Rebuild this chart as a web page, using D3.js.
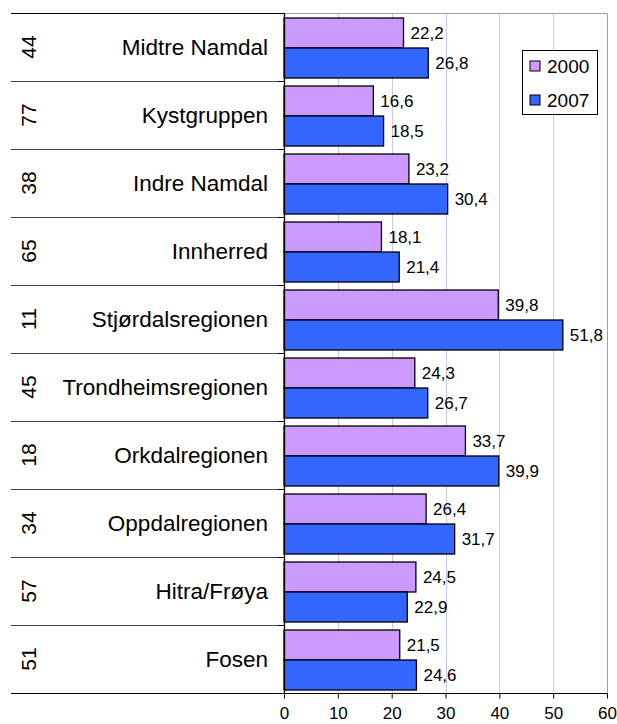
<!DOCTYPE html>
<html>
<head>
<meta charset="utf-8">
<script src="https://cdn.jsdelivr.net/npm/d3@7"></script>
<style>
  body { margin: 0; background: #fff; }
  svg text { font-family: "Liberation Sans", Arial, sans-serif; fill: #000; }
</style>
</head>
<body>
<script>
//chart data, top row first
var regions = ["Midtre Namdal", "Kystgruppen", "Indre Namdal", "Innherred", "Stjørdalsregionen",
    "Trondheimsregionen", "Orkdalregionen", "Oppdalregionen", "Hitra/Frøya", "Fosen"];
var codes = [44, 77, 38, 65, 11, 45, 18, 34, 57, 51];
var series = ["2000", "2007"];
var values2000 = [22.2, 16.6, 23.2, 18.1, 39.8, 24.3, 33.7, 26.4, 24.5, 21.5];
var values2007 = [26.8, 18.5, 30.4, 21.4, 51.8, 26.7, 39.9, 31.7, 22.9, 24.6];
var xTicks = [0, 10, 20, 30, 40, 50, 60];
var colors = ["#cc99ff", "#3366ff"];

window.onload = function(){
    var w = 617, h = 724;
    var left = 284, right = 607, top = 13, bottom = 693; //plot area
    var tableLeft = 11;

    var svg = d3.select("body").append("svg")
        .attr("width", w)
        .attr("height", h);

    //build rows from the arrays
    var rows = regions.map(function(r, i){
        return { region: r, code: codes[i], vals: [values2000[i], values2007[i]] };
    });

    var x = d3.scaleLinear().domain([0, 60]).range([left, right]);
    var y0 = d3.scaleBand().domain(regions).range([top, bottom]);
    var y1 = d3.scaleBand().domain(series).range([5, y0.bandwidth() - 3]);

    //vertical gridlines
    svg.append("g").selectAll("line")
        .data(xTicks.slice(1, -1))
        .enter().append("line")
        .attr("x1", function(d){ return Math.round(x(d)) + 0.5; })
        .attr("x2", function(d){ return Math.round(x(d)) + 0.5; })
        .attr("y1", top)
        .attr("y2", bottom)
        .style("stroke", "#c8c8f4")
        .style("stroke-width", 1);

    //plot border top + right
    svg.append("path")
        .attr("d", "M" + left + "," + (top + 0.5) + "H" + (right + 0.5) + "V" + bottom)
        .style("fill", "none")
        .style("stroke", "#a0a0a0");

    //table lines on the left
    svg.append("g").selectAll("line")
        .data(d3.range(regions.length + 1))
        .enter().append("line")
        .attr("x1", tableLeft)
        .attr("x2", left)
        .attr("y1", function(i){ return Math.round(top + i * y0.step()) + 0.5; })
        .attr("y2", function(i){ return Math.round(top + i * y0.step()) + 0.5; })
        .style("stroke", function(i){ return (i == 0 || i == regions.length) ? "#000" : "#444"; })
        .style("stroke-width", 1.2);

    //bars
    var groups = svg.selectAll(".row")
        .data(rows)
        .enter().append("g")
        .attr("class", "row")
        .attr("transform", function(d){ return "translate(0," + y0(d.region) + ")"; });

    groups.selectAll("rect")
        .data(function(d){ return d.vals.map(function(v, j){ return { s: series[j], v: v, j: j }; }); })
        .enter().append("rect")
        .attr("x", x(0))
        .attr("y", function(d){ return y1(d.s); })
        .attr("width", function(d){ return x(d.v) - x(0); })
        .attr("height", y1.bandwidth())
        .style("fill", function(d){ return colors[d.j]; })
        .style("stroke", "#000")
        .style("stroke-width", 1.3);

    //value labels, comma decimals
    var fmt = function(v){ return d3.format(".1f")(v).replace(".", ","); };
    groups.selectAll(".val")
        .data(function(d){ return d.vals.map(function(v, j){ return { s: series[j], v: v }; }); })
        .enter().append("text")
        .attr("class", "val")
        .attr("x", function(d){ return x(d.v) + 7; })
        .attr("y", function(d){ return y1(d.s) + y1.bandwidth() / 2; })
        .attr("dy", "0.35em")
        .style("font-size", "17px")
        .text(function(d){ return fmt(d.v); });

    //region names
    groups.append("text")
        .attr("x", 268)
        .attr("y", y0.bandwidth() / 2)
        .attr("dy", "0.35em")
        .attr("text-anchor", "end")
        .style("font-size", "22.5px")
        .text(function(d){ return d.region; });

    //rotated codes
    groups.append("text")
        .attr("transform", "translate(29," + (y0.bandwidth() / 2) + ") rotate(-90)")
        .attr("text-anchor", "middle")
        .attr("dy", "0.35em")
        .style("font-size", "21px")
        .text(function(d){ return d.code; });

    //left axis with category ticks
    svg.append("g").selectAll("line")
        .data(d3.range(regions.length + 1))
        .enter().append("line")
        .attr("x1", left - 6)
        .attr("x2", left)
        .attr("y1", function(i){ return Math.round(top + i * y0.step()) + 0.5; })
        .attr("y2", function(i){ return Math.round(top + i * y0.step()) + 0.5; })
        .style("stroke", "#000");
    svg.append("line")
        .attr("x1", left + 0.5).attr("x2", left + 0.5)
        .attr("y1", top).attr("y2", bottom)
        .style("stroke", "#000")
        .style("stroke-width", 1.3);

    //bottom axis
    var xAxis = d3.axisBottom(x).tickValues(xTicks).tickSize(5).tickPadding(8);
    var ax = svg.append("g")
        .attr("transform", "translate(0," + (bottom + 0.5) + ")")
        .call(xAxis);
    ax.select(".domain").style("stroke", "#000").attr("d", "M" + left + ",0H" + (right + 0.5));
    ax.selectAll(".tick line").style("stroke", "#000");
    ax.selectAll(".tick text")
        .style("font-size", "17px")
        .style("font-family", "'Liberation Sans', Arial, sans-serif")
        .style("fill", "#000");

    //legend
    var lg = svg.append("g").attr("transform", "translate(522,50)");
    lg.append("rect")
        .attr("x", 0.5).attr("y", 0.5)
        .attr("width", 75).attr("height", 64)
        .style("fill", "#fff")
        .style("stroke", "#000");
    var items = lg.selectAll(".item")
        .data(series)
        .enter().append("g")
        .attr("transform", function(d, i){ return "translate(8," + (11 + i * 34) + ")"; });
    items.append("rect")
        .attr("width", 10).attr("height", 10)
        .style("fill", function(d, i){ return colors[i]; })
        .style("stroke", "#000");
    items.append("text")
        .attr("x", 17)
        .attr("y", 5)
        .attr("dy", "0.36em")
        .style("font-size", "19px")
        .text(function(d){ return d; });
};
</script>
</body>
</html>
